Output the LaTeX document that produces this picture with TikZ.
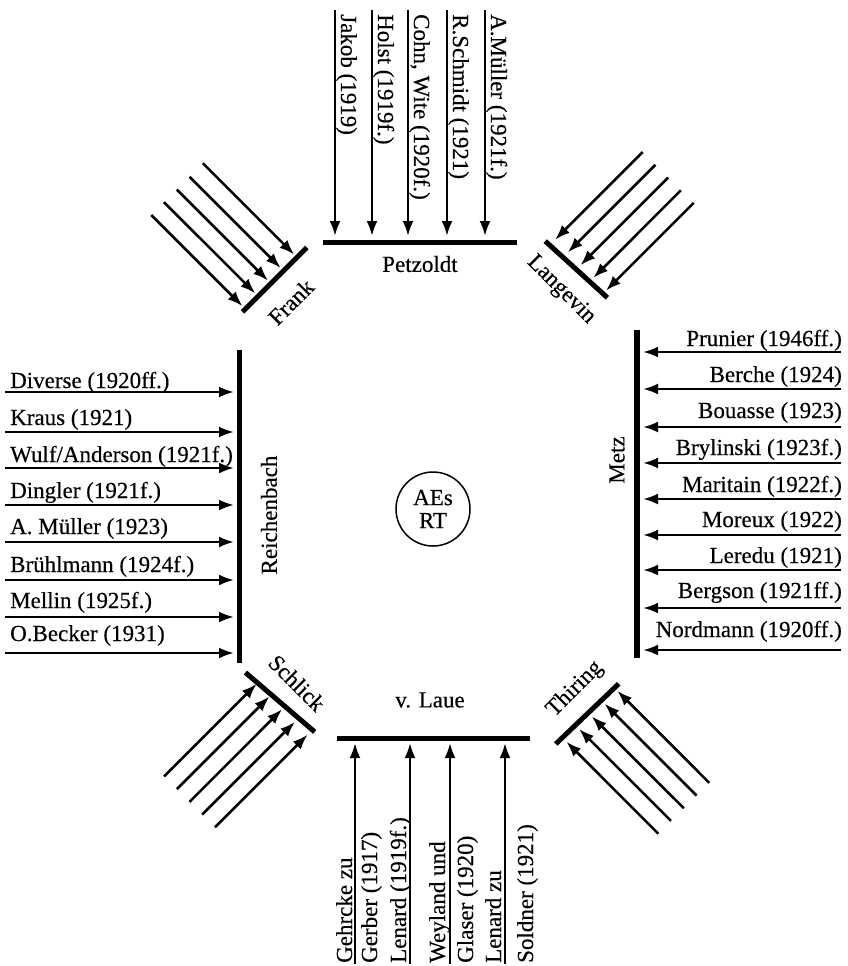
\documentclass[tikz,border=0pt]{standalone}
\usepackage{fontspec}
\setmainfont{Liberation Serif}[FakeBold=0.35]
\usetikzlibrary{arrows.meta}
\begin{document}
\begin{tikzpicture}[x=1pt,y=-1pt,
  arr/.style={line width=2.6pt,-{Latex[length=15pt,width=11pt]}},
  bar/.style={line width=5pt},
  lbl/.style={font=\fontsize{23}{23}\selectfont, inner sep=0pt},
  vdown/.style={lbl, rotate=-90, anchor=base west},
  vup/.style={lbl, rotate=90, anchor=base west},
  lleft/.style={lbl, anchor=base west},
  lright/.style={lbl, anchor=base east}]
\useasboundingbox (0,0) rectangle (848,966);

% ---------- centre ----------
\node[draw, circle, line width=1.5pt, minimum size=74pt, inner sep=0pt,
      align=center, font=\fontsize{23}{23}\selectfont] (c) at (433,509) {AEs\\RT};

% ---------- Petzoldt (top) ----------
\coordinate (P1) at (323,242); \coordinate (P2) at (517,242);
\draw[bar] (P1) -- (P2);
\node[lbl] (petz) at (420,264) {Petzoldt};
\coordinate (ta1) at (335,10);  \coordinate (tb1) at (335,236);
\coordinate (ta2) at (372,10);  \coordinate (tb2) at (372,236);
\coordinate (ta3) at (408,10);  \coordinate (tb3) at (408,236);
\coordinate (ta4) at (447,10);  \coordinate (tb4) at (447,236);
\coordinate (ta5) at (485,10);  \coordinate (tb5) at (485,236);
\foreach \i in {1,...,5} \draw[arr] (ta\i) -- (tb\i);
\node[vdown] (tl1) at (341,14) {Jakob (1919)};
\node[vdown] (tl2) at (378,14) {Holst (1919f.)};
\node[vdown] (tl3) at (414,14) {Cohn, Wite (1920f.)};
\node[vdown] (tl4) at (453,14) {R.Schmidt (1921)};
\node[vdown] (tl5) at (491,14) {A.Müller (1921f.)};

% ---------- Reichenbach (left) ----------
\coordinate (R1) at (239,350); \coordinate (R2) at (239,663);
\draw[bar] (R1) -- (R2);
\node[lbl, rotate=90] (reich) at (269,515) {Reichenbach};
\foreach \i/\y in {1/392,2/432,3/468,4/505,5/542,6/580,7/617,8/653} {
  \coordinate (la\i) at (5,\y); \coordinate (lb\i) at (234,\y);
  \draw[arr] (la\i) -- (lb\i);
}
\node[lleft] (ll1) at (10,388) {Diverse (1920ff.)};
\node[lleft] (ll2) at (10,425) {Kraus (1921)};
\node[lleft] (ll3) at (10,462) {Wulf/Anderson (1921f.)};
\node[lleft] (ll4) at (10,498) {Dingler (1921f.)};
\node[lleft] (ll5) at (10,534) {A. Müller (1923)};
\node[lleft] (ll6) at (10,572) {Brühlmann (1924f.)};
\node[lleft] (ll7) at (10,608) {Mellin (1925f.)};
\node[lleft] (ll8) at (10,641) {O.Becker (1931)};

% ---------- Metz (right) ----------
\coordinate (M1) at (637,330); \coordinate (M2) at (637,658);
\draw[line width=5.5pt] (M1) -- (M2);
\node[lbl, rotate=90] (metz) at (617,460) {Metz};
\foreach \i/\y in {1/352,2/389,3/427,4/463,5/499,6/535,7/570,8/608,9/650} {
  \coordinate (ra\i) at (841,\y); \coordinate (rb\i) at (643,\y);
  \draw[arr] (ra\i) -- (rb\i);
}
\node[lright] (rl1) at (842,346) {Prunier (1946ff.)};
\node[lright] (rl2) at (842,382) {Berche (1924)};
\node[lright] (rl3) at (842,418) {Bouasse (1923)};
\node[lright] (rl4) at (842,455) {Brylinski (1923f.)};
\node[lright] (rl5) at (842,492) {Maritain (1922f.)};
\node[lright] (rl6) at (842,527) {Moreux (1922)};
\node[lright] (rl7) at (842,563) {Leredu (1921)};
\node[lright] (rl8) at (842,598) {Bergson (1921ff.)};
\node[lright] (rl9) at (842,637) {Nordmann (1920ff.)};

% ---------- v. Laue (bottom) ----------
\coordinate (L1) at (337,738); \coordinate (L2) at (530,738);
\draw[bar] (L1) -- (L2);
\node[lbl] (laue) at (430,700) {v. Laue};
\foreach \i/\x in {1/355,2/410,3/450,4/505} {
  \coordinate (ba\i) at (\x,964); \coordinate (bb\i) at (\x,743);
  \draw[arr] (ba\i) -- (bb\i);
}
\node[vup] (bl1) at (352,963) {Gehrcke zu};
\node[vup] (bl2) at (377,963) {Gerber (1917)};
\node[vup] (bl3) at (406,963) {Lenard (1919f.)};
\node[vup] (bl4) at (445,963) {Weyland und};
\node[vup] (bl5) at (473,963) {Glaser (1920)};
\node[vup] (bl6) at (501,963) {Lenard zu};
\node[vup] (bl7) at (533,963) {Soldner (1921)};

% ---------- Frank (upper left) ----------
\coordinate (F1) at (242.5,311.8); \coordinate (F2) at (306.9,247.5);
\draw[bar] (F1) -- (F2);
\node[lbl, rotate=45] (frank) at (291,302) {Frank};
\coordinate (fa1) at (151.3,215.0); \coordinate (fb1) at (242.5,306.2);
\coordinate (fa2) at (164.0,202.2); \coordinate (fb2) at (255.3,293.4);
\coordinate (fa3) at (176.8,189.5); \coordinate (fb3) at (268.0,280.7);
\coordinate (fa4) at (189.5,176.8); \coordinate (fb4) at (280.7,268.0);
\coordinate (fa5) at (202.9,163.3); \coordinate (fb5) at (294.2,254.6);
\foreach \i in {1,...,5} \draw[arr] (fa\i) -- (fb\i);

% ---------- Langevin (upper right) ----------
\coordinate (G1) at (545.2,241.1); \coordinate (G2) at (607.4,297.7);
\draw[bar] (G1) -- (G2);
\node[lbl, rotate=-45] (lang) at (561,290) {Langevin};
\coordinate (ga1) at (642.7,152.0); \coordinate (gb1) at (555.1,239.7);
\coordinate (ga2) at (655.5,164.8); \coordinate (gb2) at (567.8,252.4);
\coordinate (ga3) at (668.2,177.5); \coordinate (gb3) at (580.5,265.2);
\coordinate (ga4) at (680.9,190.2); \coordinate (gb4) at (593.3,277.9);
\coordinate (ga5) at (693.7,202.9); \coordinate (gb5) at (606.0,290.6);
\foreach \i in {1,...,5} \draw[arr] (ga\i) -- (gb\i);

% ---------- Schlick (lower left) ----------
\coordinate (S1) at (245.4,672.5); \coordinate (S2) at (314.7,731.9);
\draw[bar] (S1) -- (S2);
\node[lbl, rotate=-45] (schl) at (297,683) {Schlick};
\coordinate (sa1) at (164.0,776.4); \coordinate (sb1) at (256.7,683.8);
\coordinate (sa2) at (176.8,789.1); \coordinate (sb2) at (269.4,696.5);
\coordinate (sa3) at (189.5,801.9); \coordinate (sb3) at (282.1,709.2);
\coordinate (sa4) at (202.2,814.6); \coordinate (sb4) at (294.9,721.9);
\coordinate (sa5) at (215.0,827.3); \coordinate (sb5) at (307.6,734.7);
\foreach \i in {1,...,5} \draw[arr] (sa\i) -- (sb\i);

% ---------- Thiring (lower right) ----------
\coordinate (T1) at (555.8,743.9); \coordinate (T2) at (618.7,683.8);
\draw[bar] (T1) -- (T2);
\node[lbl, rotate=45] (thir) at (575,689) {Thiring};
\coordinate (ha1) at (658.3,833.7); \coordinate (hb1) at (566.4,741.7);
\coordinate (ha2) at (671.0,820.9); \coordinate (hb2) at (579.1,729.0);
\coordinate (ha3) at (683.8,808.2); \coordinate (hb3) at (591.8,716.3);
\coordinate (ha4) at (696.5,795.5); \coordinate (hb4) at (604.6,703.6);
\coordinate (ha5) at (709.2,782.8); \coordinate (hb5) at (617.3,690.8);
\foreach \i in {1,...,5} \draw[arr] (ha\i) -- (hb\i);
\end{tikzpicture}
\end{document}
